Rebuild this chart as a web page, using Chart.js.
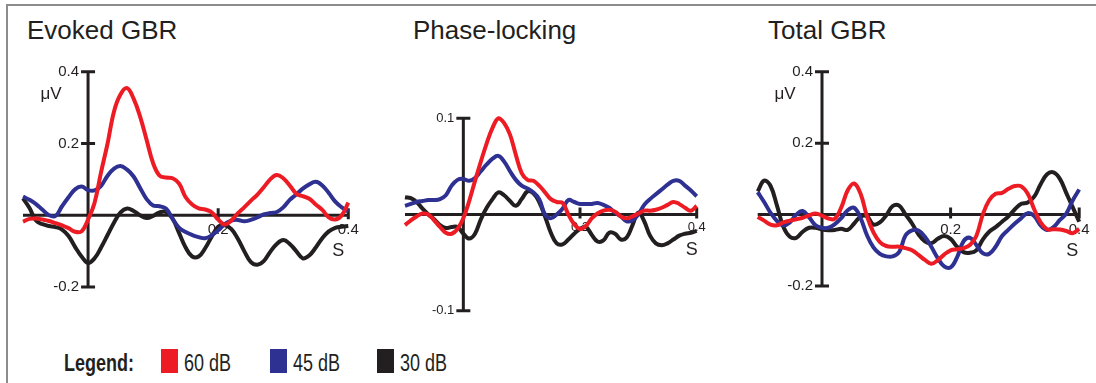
<!DOCTYPE html>
<html lang="en">
<head>
<meta charset="UTF-8">
<title>Evoked GBR, phase-locking and total GBR</title>
<script src="https://cdn.jsdelivr.net/npm/chart.js"></script>
<style>
  body { margin: 0; width: 1096px; height: 383px; overflow: hidden; position: relative; background: #fff;
         font-family: "Liberation Sans", Arial, sans-serif; color: #231f20; }
  .frame { position: absolute; left: 6px; top: 4px; width: 1100px; height: 390px;
           border-top: 2px solid #8c8c8c; border-left: 2px solid #8c8c8c; }
  canvas { position: absolute; top: 0; }
  .title { position: absolute; top: 17px; font-size: 26px; line-height: 26px; white-space: nowrap; }
  .legend { position: absolute; top: 351px; font-size: 18px; line-height: 18px; white-space: nowrap;
            transform: scaleY(1.35); transform-origin: 0 0; }
  .swatch { position: absolute; top: 349px; width: 17px; height: 24px; }
</style>
<script>
  addEventListener("DOMContentLoaded", init);

  const ink = "#231f20";
  const seriesLabels = ["60 dB", "45 dB", "30 dB"];
  const seriesColors = ["#ed1c24", "#2e3192", "#231f20"];

  // time in seconds, stimulus onset at 0
  const times = [-0.10, -0.09, -0.08, -0.07, -0.06, -0.05, -0.04, -0.03, -0.02, -0.01,
    0.00, 0.01, 0.02, 0.03, 0.04, 0.05, 0.06, 0.07, 0.08, 0.09,
    0.10, 0.11, 0.12, 0.13, 0.14, 0.15, 0.16, 0.17, 0.18, 0.19,
    0.20, 0.21, 0.22, 0.23, 0.24, 0.25, 0.26, 0.27, 0.28, 0.29,
    0.30, 0.31, 0.32, 0.33, 0.34, 0.35, 0.36, 0.37, 0.38, 0.39, 0.40];

  // evoked GBR (uV)
  const evoked60 = [-0.018, -0.01, -0.009, -0.012, -0.016, -0.022, -0.028, -0.036, -0.046, -0.045,
    -0.012, 0.035, 0.12, 0.2, 0.29, 0.337, 0.354, 0.325, 0.275, 0.21,
    0.145, 0.11, 0.105, 0.103, 0.088, 0.05, 0.03, 0.019, 0.016, 0.008,
    -0.012, -0.026, -0.015, 0.005, 0.022, 0.04, 0.057, 0.078, 0.1, 0.112,
    0.103, 0.083, 0.06, 0.053, 0.046, 0.03, 0.015, -0.006, -0.012, 0.0, 0.035];
  const evoked45 = [0.052, 0.043, 0.031, 0.015, 0.0, -0.002, 0.025, 0.05, 0.072, 0.08,
    0.07, 0.069, 0.082, 0.11, 0.13, 0.137, 0.127, 0.108, 0.076, 0.045,
    0.027, 0.025, 0.018, -0.01, -0.035, -0.047, -0.055, -0.061, -0.064, -0.056,
    -0.042, -0.025, -0.015, -0.013, -0.017, -0.013, -0.006, 0.002, 0.006, 0.009,
    0.022, 0.043, 0.058, 0.074, 0.086, 0.093, 0.083, 0.062, 0.038, 0.022, 0.01];
  const evoked30 = [0.047, 0.02, -0.015, -0.025, -0.03, -0.033, -0.04, -0.058, -0.088, -0.115,
    -0.133, -0.12, -0.09, -0.055, -0.02, 0.008, 0.019, 0.012, 0.0, -0.008,
    -0.002, 0.008, 0.009, -0.01, -0.05, -0.09, -0.115, -0.115, -0.092, -0.06,
    -0.032, -0.028, -0.038, -0.065, -0.1, -0.13, -0.138, -0.128, -0.102, -0.08,
    -0.069, -0.08, -0.1, -0.12, -0.112, -0.09, -0.064, -0.045, -0.035, -0.032, -0.03];

  // phase-locking
  const phase60 = [-0.011, -0.006, -0.002, 0.001, 0.0, -0.006, -0.013, -0.019, -0.02, -0.015,
    -0.004, 0.014, 0.035, 0.055, 0.074, 0.09, 0.1, 0.095, 0.083, 0.062,
    0.043, 0.036, 0.035, 0.03, 0.023, 0.016, 0.013, 0.012, 0.0, -0.01,
    -0.015, -0.012, -0.004, 0.001, 0.004, 0.005, 0.003, -0.002, -0.004, -0.002,
    0.001, 0.004, 0.004, 0.005, 0.007, 0.01, 0.013, 0.011, 0.007, 0.004, 0.009];
  const phase45 = [0.009, 0.011, 0.013, 0.014, 0.015, 0.015, 0.016, 0.02, 0.03, 0.036,
    0.037, 0.035, 0.038, 0.045, 0.052, 0.058, 0.061, 0.055, 0.045, 0.036,
    0.03, 0.027, 0.023, 0.016, 0.0, -0.004, 0.0, 0.006, 0.015, 0.013,
    0.011, 0.011, 0.011, 0.012, 0.01, 0.007, 0.002, -0.002, -0.007, -0.006,
    0.0, 0.01, 0.016, 0.021, 0.026, 0.031, 0.035, 0.035, 0.03, 0.025, 0.019];
  const phase30 = [0.018, 0.017, 0.013, 0.006, 0.0, -0.005, -0.011, -0.014, -0.013, -0.013,
    -0.02, -0.025, -0.02, -0.005, 0.007, 0.016, 0.023, 0.02, 0.014, 0.009,
    0.016, 0.024, 0.022, 0.013, -0.002, -0.019, -0.03, -0.031, -0.026, -0.02,
    -0.015, -0.013, -0.021, -0.028, -0.027, -0.019, -0.02, -0.026, -0.024, -0.011,
    0.002, -0.007, -0.022, -0.03, -0.032, -0.03, -0.026, -0.022, -0.02, -0.019, -0.017];

  // total GBR (uV)
  const total60 = [-0.007, -0.017, -0.028, -0.03, -0.022, -0.017, -0.013, -0.009, -0.002, 0.003,
    -0.003, -0.011, -0.012, 0.02, 0.068, 0.087, 0.058, -0.005, -0.05, -0.077,
    -0.088, -0.09, -0.09, -0.094, -0.1, -0.113, -0.127, -0.138, -0.128, -0.112,
    -0.1, -0.097, -0.094, -0.085, -0.06, 0.0, 0.04, 0.058, 0.061, 0.072,
    0.08, 0.079, 0.058, 0.015, -0.022, -0.041, -0.041, -0.042, -0.046, -0.052, -0.04];
  const total45 = [0.063, 0.035, 0.005, -0.018, -0.03, -0.022, 0.0, 0.01, -0.008, -0.03,
    -0.037, -0.037, -0.027, -0.01, 0.012, 0.019, -0.01, -0.058, -0.092, -0.11,
    -0.117, -0.117, -0.105, -0.058, -0.044, -0.045, -0.062, -0.09, -0.122, -0.145,
    -0.148, -0.12, -0.075, -0.065, -0.085, -0.108, -0.11, -0.09, -0.06, -0.042,
    -0.025, -0.01, 0.004, -0.004, -0.03, -0.043, -0.035, -0.015, 0.003, 0.04, 0.07];
  const total30 = [0.065, 0.095, 0.08, 0.025, -0.035, -0.062, -0.065, -0.048, -0.037, -0.037,
    -0.042, -0.044, -0.043, -0.04, -0.043, -0.025, -0.006, -0.005, -0.028, -0.022,
    -0.002, 0.024, 0.025, 0.0, -0.025, -0.055, -0.075, -0.08, -0.068, -0.06,
    -0.068, -0.09, -0.105, -0.107, -0.1, -0.07, -0.048, -0.035, -0.02, -0.005,
    0.015, 0.03, 0.034, 0.05, 0.085, 0.113, 0.118, 0.1, 0.06, 0.02, -0.02];

  const ampTicks = [0.4, 0.2, -0.2];
  const plvTicks = [0.1, -0.1];
  const timeTicks = [0.2, 0.4];

  const fontFamily = '"Liberation Sans", Arial, sans-serif';

  // axes crossing at the origin, drawn under the traces
  const crossAxes = {
    id: "crossAxes",
    beforeDatasetsDraw(chart, args, opts) {
      const ctx = chart.ctx;
      const x = chart.scales.x, y = chart.scales.y;
      const x0 = x.getPixelForValue(0), y0 = y.getPixelForValue(0);
      const top = y.getPixelForValue(y.max), bottom = y.getPixelForValue(y.min);
      const left = x.getPixelForValue(x.min), right = x.getPixelForValue(x.max);

      ctx.save();
      ctx.strokeStyle = ink;
      ctx.fillStyle = ink;
      ctx.lineWidth = 3;
      ctx.beginPath();
      ctx.moveTo(left, y0); ctx.lineTo(right, y0);
      ctx.moveTo(x0, top); ctx.lineTo(x0, bottom);
      for (const v of opts.yTicks) {
        const py = y.getPixelForValue(v);
        ctx.moveTo(x0 - 7, py); ctx.lineTo(x0 + 7, py);
      }
      for (const v of timeTicks) {
        const px = x.getPixelForValue(v);
        ctx.moveTo(px, y0 - 7); ctx.lineTo(px, y0 + 4);
      }
      ctx.stroke();

      ctx.font = opts.tickSize + "px " + fontFamily;
      ctx.textAlign = "right";
      ctx.textBaseline = "middle";
      for (const v of opts.yTicks) {
        ctx.fillText(String(v), x0 - 9, y.getPixelForValue(v));
      }
      ctx.textAlign = "center";
      for (const v of timeTicks) {
        ctx.fillText(String(v), x.getPixelForValue(v), y0 + opts.tickSize);
      }

      ctx.font = "18px " + fontFamily;
      ctx.fillText("S", right - opts.sShift, y0 + 36);
      if (opts.unit) {
        ctx.font = "17px " + fontFamily;
        ctx.fillText(opts.unit, x0 - 37, top + 23);
      }
      ctx.restore();
    }
  };

  function drawPanel(id, series, yMin, yMax, padding, axisOpts) {
    new Chart(document.getElementById(id), {
      type: "line",
      data: {
        datasets: series.map((vals, i) => ({
          label: seriesLabels[i],
          data: times.map((t, k) => ({ x: t, y: vals[k] })),
          borderColor: seriesColors[i],
          borderWidth: 4,
          pointRadius: 0,
          tension: 0.4,
          fill: false,
          clip: false
        }))
      },
      options: {
        responsive: false,
        animation: false,
        events: [],
        layout: { padding: padding },
        scales: {
          x: { type: "linear", min: -0.1, max: 0.4, display: false },
          y: { min: yMin, max: yMax, display: false }
        },
        plugins: {
          legend: { display: false },
          tooltip: { enabled: false },
          crossAxes: axisOpts
        }
      },
      plugins: [crossAxes]
    });
  }

  function buildLegend() {
    const legendLeft = [161, 270, 377];
    seriesLabels.forEach((label, i) => {
      const sw = document.createElement("div");
      sw.className = "swatch";
      sw.style.left = legendLeft[i] + "px";
      sw.style.background = seriesColors[i];
      document.body.appendChild(sw);

      const txt = document.createElement("div");
      txt.className = "legend";
      txt.style.left = (legendLeft[i] + 23) + "px";
      txt.textContent = label;
      document.body.appendChild(txt);
    });
  }

  function init() {
    drawPanel("evoked", [evoked60, evoked45, evoked30], -0.2, 0.4,
      { left: 23, right: 21.7, top: 71.7, bottom: 43 },
      { yTicks: ampTicks, tickSize: 15, unit: "\u03bcV", sShift: 10 });
    drawPanel("phase", [phase60, phase45, phase30], -0.1, 0.1,
      { left: 35, right: 33.3, top: 118.3, bottom: 19.3 },
      { yTicks: plvTicks, tickSize: 13, unit: null, sShift: 5 });
    drawPanel("total", [total60, total45, total30], -0.2, 0.4,
      { left: 27.7, right: 16.8, top: 71.7, bottom: 44 },
      { yTicks: ampTicks, tickSize: 15, unit: "\u03bcV", sShift: 7 });
    buildLegend();
  }
</script>
</head>
<body>
  <div class="frame"></div>
  <div class="title" style="left:27px">Evoked GBR</div>
  <div class="title" style="left:413px">Phase-locking</div>
  <div class="title" style="left:768px">Total GBR</div>
  <canvas id="evoked" width="370" height="330" style="left:0"></canvas>
  <canvas id="phase" width="360" height="330" style="left:370px"></canvas>
  <canvas id="total" width="366" height="330" style="left:730px"></canvas>
  <div class="legend" style="left:64px; font-weight:bold">Legend:</div>
</body>
</html>
